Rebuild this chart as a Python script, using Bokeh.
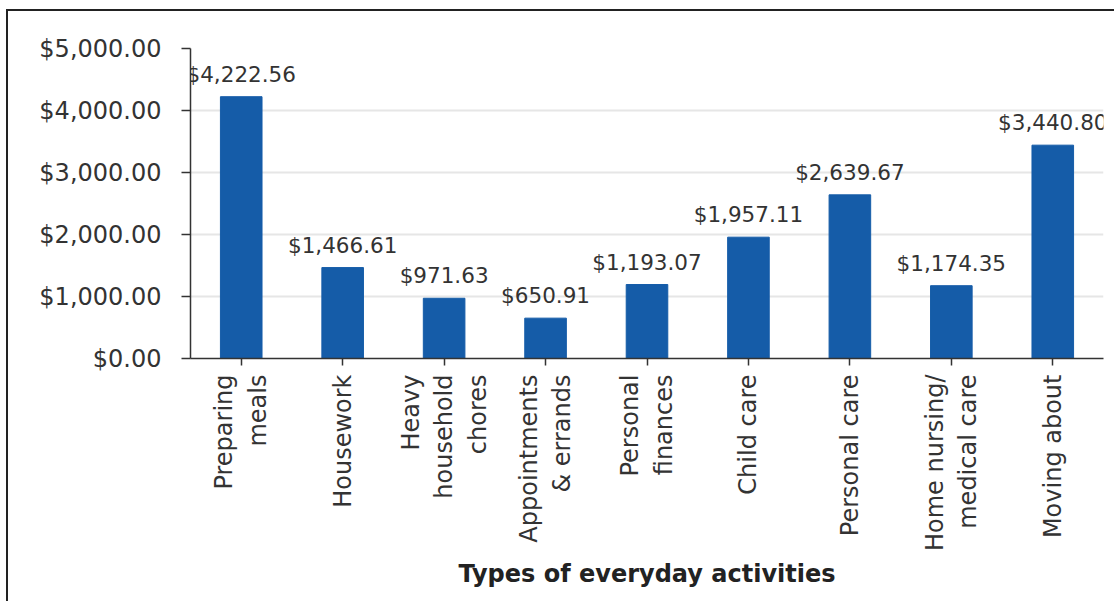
from bokeh.plotting import figure
from bokeh.models import ColumnDataSource, FactorRange, FixedTicker, NumeralTickFormatter, Range1d
from bokeh.core.properties import value
from bokeh.embed import file_html
from bokeh.resources import INLINE
import math

categories = ["Preparing\nmeals", "Housework", "Heavy\nhousehold\nchores", "Appointments\n& errands",
              "Personal\nfinances", "Child care", "Personal care", "Home nursing/\nmedical care", "Moving about"]
costs = [4222.56, 1466.61, 971.63, 650.91, 1193.07, 1957.11, 2639.67, 1174.35, 3440.80]
y_ticks = [0, 1000, 2000, 3000, 4000, 5000]
cost_labels = ["${:,.2f}".format(v) for v in costs]

FONT = "DejaVu Sans"
TXT = "#333333"

src = ColumnDataSource(dict(cat=categories, cost=costs, lbl=cost_labels))

p = figure(width=1108, height=592, x_range=FactorRange(*categories, range_padding=0),
           y_range=Range1d(0, 5000), output_backend="svg", toolbar_location=None,
           min_border_left=182, min_border_top=37, min_border_bottom=245, min_border_right=13)
p.styles = {"border-left": "2.5px solid #222222", "border-top": "2.5px solid #222222",
            "margin-left": "6px", "margin-top": "9px"}
p.outline_line_color = None
p.background_fill_color = "white"

p.vbar(x="cat", top="cost", width=0.41, source=src, color="#155ca8")
p.text(x="cat", y="cost", text="lbl", source=src, text_align="center", text_baseline="bottom",
       y_offset=-10, text_font=value(FONT), text_font_size="21.5px", text_color=TXT)

p.xgrid.grid_line_color = None
p.ygrid.grid_line_color = "#e6e6e6"
p.ygrid.grid_line_width = 2
p.ygrid.ticker = FixedTicker(ticks=y_ticks)

ya = p.yaxis[0]
ya.ticker = FixedTicker(ticks=y_ticks)
ya.formatter = NumeralTickFormatter(format="$0,0.00")
ya.major_label_text_font = FONT
ya.major_label_text_font_size = "24px"
ya.major_label_text_color = TXT
ya.major_label_standoff = 20
ya.major_tick_in = 0
ya.major_tick_out = 9
ya.minor_tick_line_color = None
ya.axis_line_color = "#333333"
ya.axis_line_width = 1.5
ya.major_tick_line_color = "#333333"
ya.major_tick_line_width = 1.5

xa = p.xaxis[0]
xa.major_label_orientation = math.pi / 2
xa.major_label_text_font = FONT
xa.major_label_text_font_size = "24px"
xa.major_label_text_color = TXT
xa.major_label_standoff = 9
xa.major_tick_in = 0
xa.major_tick_out = 7
xa.axis_line_color = "#333333"
xa.axis_line_width = 1.5
xa.major_tick_line_color = "#333333"
xa.major_tick_line_width = 1.5
xa.axis_label = "Types of everyday activities"
xa.axis_label_text_font = FONT
xa.axis_label_text_font_style = "bold"
xa.axis_label_text_font_size = "24px"
xa.axis_label_text_color = "#222222"
xa.axis_label_standoff = 6

open("out.html", "w").write(file_html(p, INLINE))
